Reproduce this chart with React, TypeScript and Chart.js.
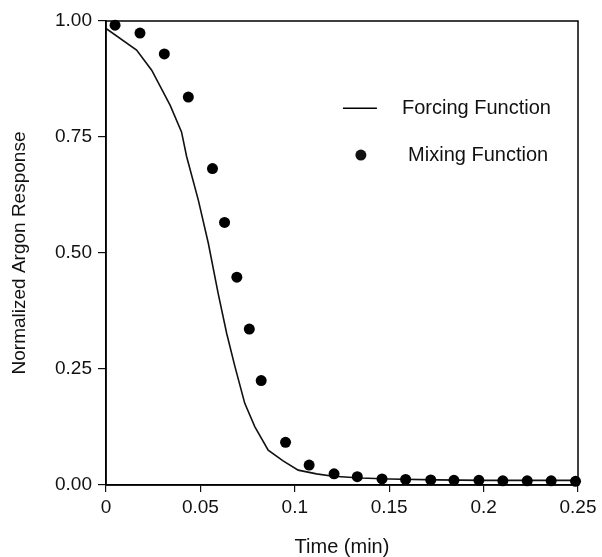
import React, { useEffect, useRef } from "react";
import { Chart, registerables } from "chart.js";

Chart.register(...registerables);

const forcingTime = [0, 0.0162, 0.0242, 0.034, 0.04, 0.0427, 0.0489, 0.0542, 0.0594, 0.0639, 0.0683, 0.0735, 0.0788, 0.0859, 0.0938, 0.1018, 0.1115, 0.1203, 0.135, 0.15, 0.175, 0.2, 0.225, 0.25];
const forcingValue = [0.984, 0.9375, 0.894, 0.818, 0.761, 0.708, 0.614, 0.521, 0.413, 0.327, 0.255, 0.176, 0.126, 0.075, 0.052, 0.032, 0.024, 0.019, 0.015, 0.013, 0.011, 0.01, 0.01, 0.01];

const mixingTime = [0.0048, 0.018, 0.0309, 0.0436, 0.0564, 0.0628, 0.0693, 0.0759, 0.0822, 0.0951, 0.1076, 0.1208, 0.1331, 0.1462, 0.1587, 0.172, 0.1843, 0.1975, 0.2102, 0.2231, 0.2358, 0.2487];
const mixingValue = [0.991, 0.974, 0.929, 0.836, 0.682, 0.566, 0.448, 0.336, 0.225, 0.092, 0.043, 0.024, 0.018, 0.013, 0.012, 0.011, 0.01, 0.01, 0.009, 0.009, 0.009, 0.008];

const xTickLabels = ["0", "0.05", "0.1", "0.15", "0.2", "0.25"];
const yTickLabels = ["0.00", "0.25", "0.50", "0.75", "1.00"];

const seriesNames = ["Forcing Function", "Mixing Function"];
const xTitle = "Time (min)";
const yTitle = "Normalized Argon Response";

const FONT = "'Liberation Sans', Arial, Helvetica, sans-serif";

const boxAndLegend = {
  id: "boxAndLegend",
  afterDraw(chart: any) {
    const { ctx, chartArea } = chart;
    const { left, top, right, bottom } = chartArea;
    const w = right - left;
    const h = bottom - top;
    ctx.save();
    ctx.strokeStyle = "#000";
    ctx.lineWidth = 1.5;
    ctx.strokeRect(left, top, w, h);

    // legend
    ctx.font = `20px ${FONT}`;
    ctx.fillStyle = "#111";
    ctx.textAlign = "left";
    ctx.textBaseline = "middle";
    const y1 = top + h * 0.188;
    const y2 = top + h * 0.289;
    ctx.lineWidth = 1.5;
    ctx.beginPath();
    ctx.moveTo(left + w * 0.502, y1);
    ctx.lineTo(left + w * 0.574, y1);
    ctx.stroke();
    ctx.fillText(seriesNames[0], left + w * 0.627, y1);
    ctx.beginPath();
    ctx.arc(left + w * 0.54, y2, 5.5, 0, Math.PI * 2);
    ctx.fill();
    ctx.fillText(seriesNames[1], left + w * 0.64, y2);
    ctx.restore();
  },
};

export default function App() {
  const canvasRef = useRef<HTMLCanvasElement | null>(null);

  useEffect(() => {
    if (!canvasRef.current) return;
    Chart.defaults.font.family = FONT;
    const chart = new Chart(canvasRef.current, {
      type: "scatter",
      data: {
        datasets: [
          {
            label: seriesNames[0],
            data: forcingTime.map((x, i) => ({ x, y: forcingValue[i] })),
            showLine: true,
            borderColor: "#111",
            borderWidth: 1.6,
            pointRadius: 0,
            tension: 0,
            order: 2,
          },
          {
            label: seriesNames[1],
            data: mixingTime.map((x, i) => ({ x, y: mixingValue[i] })),
            showLine: false,
            backgroundColor: "#000",
            borderColor: "#000",
            pointRadius: 5.5,
            borderWidth: 0,
            clip: false,
            order: 1,
          },
        ],
      },
      options: {
        animation: false,
        responsive: true,
        maintainAspectRatio: false,
        layout: { padding: { top: 21, right: 24, left: 0, bottom: 0 } },
        plugins: {
          legend: { display: false },
          tooltip: { enabled: false },
        },
        scales: {
          x: {
            type: "linear",
            min: 0,
            max: 0.25,
            afterFit: (s: any) => {
              s.height = 72;
            },
            afterBuildTicks: (s: any) => {
              s.ticks = xTickLabels.map((t) => ({ value: parseFloat(t) }));
            },
            ticks: {
              color: "#111",
              font: { size: 19 },
              padding: 4,
              maxRotation: 0,
              callback: (_v: any, i: number) => xTickLabels[i],
            },
            grid: {
              drawOnChartArea: false,
              drawTicks: true,
              tickLength: 7,
              color: "#111",
              lineWidth: 1.2,
            },
            border: { display: true, color: "#000", width: 1.5 },
            title: {
              display: true,
              text: xTitle,
              color: "#111",
              font: { size: 20, lineHeight: 1 },
              padding: { top: 0, bottom: 0 },
            },
          },
          y: {
            type: "linear",
            min: 0,
            max: 1,
            afterFit: (s: any) => {
              s.width = 106;
            },
            afterBuildTicks: (s: any) => {
              s.ticks = yTickLabels.map((t) => ({ value: parseFloat(t) }));
            },
            ticks: {
              color: "#111",
              font: { size: 19 },
              padding: 6,
              callback: (_v: any, i: number) => yTickLabels[i],
            },
            grid: {
              drawOnChartArea: false,
              drawTicks: true,
              tickLength: 8,
              color: "#111",
              lineWidth: 1.2,
            },
            border: { display: true, color: "#000", width: 1.5 },
            title: {
              display: true,
              text: yTitle,
              color: "#111",
              font: { size: 19, lineHeight: 1 },
              padding: { top: 10, bottom: 0 },
            },
          },
        },
      },
      plugins: [boxAndLegend],
    });
    return () => chart.destroy();
  }, []);

  return (
    <div style={{ position: "fixed", left: 0, top: 0, width: 602, height: 557, background: "#fff" }}>
      <canvas ref={canvasRef} />
    </div>
  );
}
